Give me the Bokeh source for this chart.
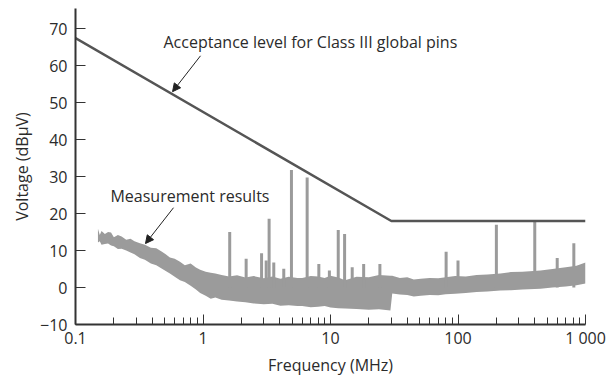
from bokeh.plotting import figure
from bokeh.models import FixedTicker, Label, Arrow, NormalHead, ColumnDataSource
from bokeh.embed import file_html
from bokeh.resources import INLINE

# Acceptance level (Class III global pins)
limit_freq = [0.1, 30, 1000]
limit_dbuv = [67.5, 18, 18]

band_freq = [0.15, 0.155, 0.16, 0.17, 0.18, 0.19, 0.20, 0.215, 0.23, 0.25, 0.27, 0.29,
             0.32, 0.35, 0.39, 0.43, 0.47, 0.51, 0.55, 0.60, 0.66, 0.72, 0.80, 0.88,
             0.95, 1.05, 1.15, 1.25, 1.4, 1.6, 1.85, 2.15, 2.5, 3.0, 3.5, 4.05, 4.7,
             5.5, 6.0, 7.0, 8.0, 9.0, 10, 11.5, 13, 16, 20, 24, 29.5, 30.5,
             35, 40, 45, 51, 60, 70, 80, 95, 115, 140, 170, 215, 260, 320, 444,
             550, 700, 850, 1000]
band_upper = [15.9, 14.2, 15.3, 14.5, 15.0, 14.9, 13.6, 14.2, 13.8, 12.9, 13.2, 12.5,
              12.0, 11.6, 10.8, 10.6, 9.8, 9.0, 8.1, 7.8, 7.0, 6.0, 6.5, 5.4,
              4.8, 4.3, 4.0, 3.8, 3.4, 3.0, 3.3, 2.7, 3.1, 2.5, 3.0, 2.4, 2.9,
              2.6, 2.6, 3.1, 3.0, 2.6, 3.2, 2.7, 2.0, 2.9, 2.8, 3.4, 3.2, 3.2,
              2.6, 2.8, 2.2, 2.4, 2.6, 2.5, 2.8, 3.1, 3.0, 3.4, 3.5, 3.8, 4.2, 4.3, 4.6,
              5.0, 5.5, 5.9, 6.8]
band_lower = [12.2, 12.5, 11.6, 11.8, 11.9, 11.4, 11.2, 10.4, 10.5, 10.0, 9.5, 9.0,
              8.0, 7.5, 6.5, 6.0, 5.2, 4.5, 3.8, 2.9, 2.0, 1.5, 0.5, -0.5,
              -1.5, -2.2, -3.0, -2.7, -3.3, -3.5, -3.8, -4.0, -4.3, -4.5, -4.4, -4.9, -4.8,
              -5.0, -5.0, -5.3, -5.2, -5.0, -5.4, -5.6, -5.7, -5.8, -6.0, -5.9, -6.2, -1.6,
              -1.9, -2.0, -2.4, -2.2, -2.0, -2.1, -1.8, -1.7, -1.5, -1.2, -1.1, -0.8, -0.7, -0.5, -0.3,
              0.0, 0.3, 0.6, 1.1]

# Narrow-band spikes
spike_freq = [1.62, 2.18, 2.88, 3.13, 3.3, 3.59, 4.3, 4.94, 6.56, 8.1, 9.8, 11.5,
              12.9, 14.8, 18.2, 24.4, 80.7, 100, 200, 400, 600, 810]
spike_top = [15.0, 7.8, 9.3, 7.3, 18.6, 6.8, 5.1, 31.8, 29.8, 6.4, 4.6, 15.6,
             14.5, 5.5, 6.4, 6.4, 9.7, 7.3, 17.0, 18.1, 8.0, 12.0]
spike_base = [0.0] * len(spike_freq)

x_ticks = [0.1, 1, 10, 100, 1000]
x_tick_labels = {0.1: "0.1", 1: "1", 10: "10", 100: "100", 1000: "1 000"}
y_ticks = [-10, 0, 10, 20, 30, 40, 50, 60, 70]

FONT = "Open Sans"
FS = "16px"
TXT = "#2b2b2b"
GRAY = "#9b9b9b"

p = figure(width=616, height=379, x_axis_type="log", x_range=(0.1, 1000),
           y_range=(-10, 75.5), output_backend="svg", toolbar_location=None,
           min_border_left=75, min_border_right=31, min_border_top=8,
           min_border_bottom=55)
p.outline_line_color = None
p.grid.visible = False
p.background_fill_color = "white"
p.border_fill_color = "white"

band = ColumnDataSource(dict(f=band_freq, up=band_upper, lo=band_lower))
p.varea(x="f", y1="lo", y2="up", source=band, fill_color=GRAY)

spk = ColumnDataSource(dict(f=spike_freq, b=spike_base, t=spike_top))
p.segment(x0="f", y0="b", x1="f", y1="t", source=spk, line_color=GRAY, line_width=3)

p.line(limit_freq, limit_dbuv, line_color="#555555", line_width=2.5)

minor = []
for d in [0.1, 1, 10, 100]:
    for k in range(2, 10):
        minor.append(d * k)
p.xaxis.ticker = FixedTicker(ticks=x_ticks, minor_ticks=minor)
p.xaxis.major_label_overrides = x_tick_labels
p.yaxis.ticker = FixedTicker(ticks=y_ticks)

for ax in (p.xaxis[0], p.yaxis[0]):
    ax.axis_line_color = "#333333"
    ax.axis_line_width = 2
    ax.major_tick_line_color = "#333333"
    ax.minor_tick_line_color = "#333333"
    ax.major_tick_in = 10
    ax.major_tick_out = 0
    ax.minor_tick_in = 7
    ax.minor_tick_out = 0
    ax.major_label_text_font = FONT
    ax.major_label_text_font_size = FS
    ax.major_label_text_color = TXT
    ax.axis_label_text_font = FONT
    ax.axis_label_text_font_size = FS
    ax.axis_label_text_font_style = "normal"
    ax.axis_label_text_color = TXT
p.yaxis.minor_tick_line_color = None
p.xaxis.axis_label = "Frequency (MHz)"
p.yaxis.axis_label = "Voltage (dBµV)"
p.xaxis.major_label_standoff = 2
p.yaxis.major_label_standoff = 8
p.xaxis.axis_label_standoff = 2
p.yaxis.axis_label_standoff = 4

p.add_layout(Label(x=0.49, y=66.5, text="Acceptance level for Class III global pins",
                   text_font=FONT, text_font_size=FS, text_color=TXT,
                   text_baseline="middle"))
p.add_layout(Label(x=0.188, y=24.9, text="Measurement results",
                   text_font=FONT, text_font_size=FS, text_color=TXT,
                   text_baseline="middle"))

p.add_layout(Arrow(x_start=0.956, y_start=62.7, x_end=0.577, y_end=53.0,
                   line_color="#222222", line_width=1,
                   end=NormalHead(size=8, fill_color="#222222", line_color="#222222")))
p.add_layout(Arrow(x_start=0.587, y_start=21.6, x_end=0.354, y_end=11.9,
                   line_color="#222222", line_width=1,
                   end=NormalHead(size=8, fill_color="#222222", line_color="#222222")))

open("out.html", "w").write(file_html(p, INLINE))
